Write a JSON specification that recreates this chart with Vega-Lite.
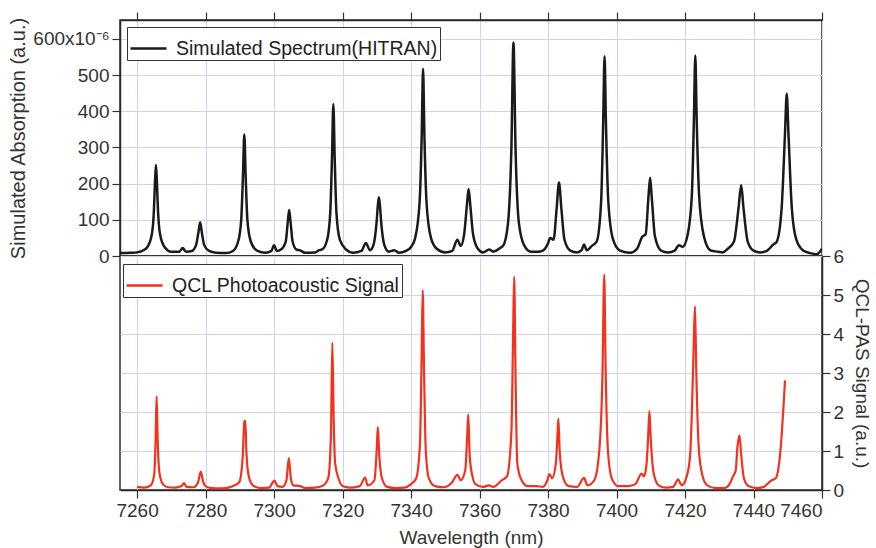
{
  "$schema": "https://vega.github.io/schema/vega-lite/v6.json",
  "padding": {"left": 8, "top": 10, "right": 4, "bottom": 0},
  "background": "white",
  "spacing": 0,
  "bounds": "flush",
  "config": {
    "font": "Liberation Sans",
    "view": {"stroke": "#2a2a2a", "strokeWidth": 1.5},
    "axis": {
      "labelFont": "Liberation Sans",
      "titleFont": "Liberation Sans",
      "labelFontSize": 19,
      "titleFontSize": 20,
      "titleFontWeight": "normal",
      "labelColor": "#333",
      "titleColor": "#333",
      "tickColor": "#333",
      "domainColor": "#2a2a2a",
      "domainWidth": 1.5,
      "tickWidth": 1.2,
      "tickSize": 8,
      "gridColor": "#cdd1f4",
      "gridWidth": 1,
      "labelPadding": 3
    },
    "legend": {
      "labelFont": "Liberation Sans",
      "labelFontSize": 19.5,
      "labelColor": "#222",
      "labelLimit": 500,
      "strokeColor": "#333",
      "fillColor": "white",
      "padding": 2,
      "symbolType": "stroke",
      "symbolSize": 1300,
      "symbolStrokeWidth": 2.5,
      "labelOffset": 8,
      "title": null
    }
  },
  "datasets": {
    "sim": [
      {"x":7255,"y":8},{"x":7258,"y":9},{"x":7260,"y":10},{"x":7261.5,"y":14},{"x":7263,"y":25},{"x":7264.3,"y":60},{"x":7264.9,"y":125},{"x":7265.2,"y":200},{"x":7265.5,"y":252},{"x":7265.8,"y":200},{"x":7266.1,"y":125},{"x":7266.7,"y":60},{"x":7268,"y":25},{"x":7270,"y":12},{"x":7272.3,"y":12},{"x":7273.3,"y":22},{"x":7274.3,"y":12},{"x":7276,"y":14},{"x":7277.2,"y":30},{"x":7277.9,"y":65},{"x":7278.4,"y":93},{"x":7278.9,"y":65},{"x":7279.6,"y":30},{"x":7281,"y":14},{"x":7283,"y":9},{"x":7286,"y":8},{"x":7288,"y":14},{"x":7289.5,"y":40},{"x":7290.4,"y":100},{"x":7290.9,"y":220},{"x":7291.3,"y":336},{"x":7291.7,"y":220},{"x":7292.2,"y":100},{"x":7293.2,"y":40},{"x":7295,"y":15},{"x":7297.5,"y":9},{"x":7299.2,"y":14},{"x":7300,"y":30},{"x":7300.8,"y":14},{"x":7302,"y":18},{"x":7303.4,"y":40},{"x":7304,"y":95},{"x":7304.4,"y":127},{"x":7304.8,"y":95},{"x":7305.4,"y":40},{"x":7306.5,"y":18},{"x":7307.5,"y":16},{"x":7309,"y":9},{"x":7312,"y":10},{"x":7313.1,"y":16},{"x":7314,"y":18},{"x":7315.5,"y":45},{"x":7316.4,"y":120},{"x":7316.9,"y":270},{"x":7317.3,"y":420},{"x":7317.7,"y":270},{"x":7318.2,"y":120},{"x":7319.2,"y":45},{"x":7321,"y":18},{"x":7323,"y":9},{"x":7325.5,"y":14},{"x":7326.8,"y":36},{"x":7328,"y":16},{"x":7329,"y":30},{"x":7329.9,"y":90},{"x":7330.3,"y":140},{"x":7330.6,"y":162},{"x":7330.9,"y":140},{"x":7331.3,"y":90},{"x":7332.2,"y":30},{"x":7333.5,"y":12},{"x":7335.1,"y":16},{"x":7336.5,"y":9},{"x":7338.5,"y":14},{"x":7340,"y":25},{"x":7341.2,"y":50},{"x":7342.5,"y":150},{"x":7343.1,"y":330},{"x":7343.5,"y":517},{"x":7343.9,"y":330},{"x":7344.5,"y":150},{"x":7345.8,"y":50},{"x":7347.5,"y":20},{"x":7350,"y":10},{"x":7352,"y":14},{"x":7353.5,"y":45},{"x":7354.5,"y":28},{"x":7355.5,"y":60},{"x":7356.3,"y":140},{"x":7356.8,"y":185},{"x":7357.3,"y":140},{"x":7358.1,"y":60},{"x":7359.5,"y":20},{"x":7361,"y":10},{"x":7362.8,"y":18},{"x":7364,"y":12},{"x":7366,"y":22},{"x":7367,"y":30},{"x":7368.3,"y":90},{"x":7369.3,"y":300},{"x":7369.9,"y":590},{"x":7370.5,"y":300},{"x":7371.5,"y":90},{"x":7373,"y":30},{"x":7375,"y":12},{"x":7377,"y":12},{"x":7378.5,"y":15},{"x":7380,"y":35},{"x":7380.6,"y":50},{"x":7381.6,"y":45},{"x":7382.5,"y":130},{"x":7383.2,"y":203},{"x":7383.9,"y":130},{"x":7384.8,"y":45},{"x":7386.5,"y":15},{"x":7388.5,"y":10},{"x":7389.8,"y":16},{"x":7390.5,"y":32},{"x":7391.3,"y":16},{"x":7392.8,"y":28},{"x":7394.2,"y":40},{"x":7395.5,"y":150},{"x":7396.1,"y":370},{"x":7396.5,"y":552},{"x":7396.9,"y":370},{"x":7397.6,"y":150},{"x":7399,"y":45},{"x":7401,"y":15},{"x":7404,"y":9},{"x":7406,"y":20},{"x":7407.5,"y":53},{"x":7408.5,"y":60},{"x":7409.3,"y":160},{"x":7409.8,"y":216},{"x":7410.3,"y":160},{"x":7411.2,"y":55},{"x":7413,"y":15},{"x":7415,"y":10},{"x":7417,"y":15},{"x":7418.2,"y":30},{"x":7419.3,"y":25},{"x":7420.8,"y":60},{"x":7422,"y":170},{"x":7422.6,"y":380},{"x":7423,"y":554},{"x":7423.4,"y":380},{"x":7424.1,"y":170},{"x":7425.5,"y":55},{"x":7427.5,"y":15},{"x":7429.6,"y":12},{"x":7431,"y":10},{"x":7432.5,"y":20},{"x":7434.3,"y":40},{"x":7435.6,"y":130},{"x":7436.4,"y":196},{"x":7437.1,"y":130},{"x":7438.3,"y":40},{"x":7440,"y":15},{"x":7442,"y":10},{"x":7444,"y":15},{"x":7445.8,"y":32},{"x":7446.8,"y":40},{"x":7448.2,"y":130},{"x":7449.2,"y":340},{"x":7449.7,"y":448},{"x":7450.2,"y":340},{"x":7451.2,"y":130},{"x":7452.5,"y":45},{"x":7454.5,"y":15},{"x":7456.5,"y":8},{"x":7458.5,"y":5},{"x":7460,"y":20}
    ],
    "pas": [
      {"x":7260,"y":0.08},{"x":7262,"y":0.06},{"x":7264,"y":0.12},{"x":7265,"y":0.4},{"x":7265.4,"y":1.3},{"x":7265.7,"y":2.4},{"x":7266,"y":1.3},{"x":7266.5,"y":0.45},{"x":7267.5,"y":0.15},{"x":7269,"y":0.07},{"x":7271,"y":0.06},{"x":7273,"y":0.1},{"x":7273.7,"y":0.18},{"x":7274.4,"y":0.08},{"x":7276.5,"y":0.07},{"x":7277.8,"y":0.2},{"x":7278.6,"y":0.47},{"x":7279.3,"y":0.2},{"x":7280.5,"y":0.07},{"x":7283,"y":0.04},{"x":7286,"y":0.05},{"x":7288,"y":0.1},{"x":7289.8,"y":0.2},{"x":7290.8,"y":0.8},{"x":7291.3,"y":1.75},{"x":7291.6,"y":1.77},{"x":7291.9,"y":1.0},{"x":7292.6,"y":0.35},{"x":7293.8,"y":0.12},{"x":7296,"y":0.05},{"x":7298.5,"y":0.06},{"x":7300.1,"y":0.24},{"x":7301,"y":0.1},{"x":7302.5,"y":0.08},{"x":7303.6,"y":0.25},{"x":7304.3,"y":0.82},{"x":7304.9,"y":0.3},{"x":7305.6,"y":0.12},{"x":7307.6,"y":0.1},{"x":7309,"y":0.05},{"x":7312,"y":0.06},{"x":7314,"y":0.1},{"x":7315.8,"y":0.3},{"x":7316.6,"y":1.4},{"x":7317,"y":3.78},{"x":7317.4,"y":1.8},{"x":7317.8,"y":0.7},{"x":7318.8,"y":0.3},{"x":7320,"y":0.1},{"x":7322,"y":0.06},{"x":7325,"y":0.1},{"x":7326.6,"y":0.32},{"x":7327.3,"y":0.12},{"x":7329.3,"y":0.25},{"x":7330,"y":1.1},{"x":7330.3,"y":1.61},{"x":7330.7,"y":0.9},{"x":7331.5,"y":0.3},{"x":7333,"y":0.08},{"x":7335.5,"y":0.05},{"x":7338,"y":0.06},{"x":7340,"y":0.15},{"x":7341.5,"y":0.3},{"x":7342.6,"y":1.2},{"x":7343.1,"y":3.5},{"x":7343.4,"y":5.12},{"x":7343.8,"y":3.0},{"x":7344.3,"y":1.0},{"x":7345.2,"y":0.3},{"x":7347,"y":0.1},{"x":7349.5,"y":0.07},{"x":7352,"y":0.2},{"x":7353.5,"y":0.39},{"x":7354.5,"y":0.25},{"x":7355.8,"y":0.5},{"x":7356.4,"y":1.4},{"x":7356.7,"y":1.94},{"x":7357.1,"y":0.9},{"x":7357.8,"y":0.4},{"x":7358.8,"y":0.15},{"x":7361,"y":0.08},{"x":7362.8,"y":0.12},{"x":7364,"y":0.08},{"x":7366.5,"y":0.25},{"x":7368,"y":0.35},{"x":7369.3,"y":1.5},{"x":7369.8,"y":4.0},{"x":7370.1,"y":5.47},{"x":7370.5,"y":3.0},{"x":7371,"y":0.7},{"x":7372,"y":0.3},{"x":7374,"y":0.1},{"x":7376.7,"y":0.1},{"x":7378.5,"y":0.08},{"x":7379.8,"y":0.25},{"x":7380.4,"y":0.41},{"x":7381.2,"y":0.3},{"x":7382.3,"y":0.7},{"x":7382.8,"y":1.5},{"x":7383,"y":1.83},{"x":7383.4,"y":1.0},{"x":7384.3,"y":0.35},{"x":7386,"y":0.1},{"x":7388.5,"y":0.08},{"x":7390.5,"y":0.31},{"x":7391.5,"y":0.12},{"x":7393.5,"y":0.25},{"x":7395,"y":1.05},{"x":7395.9,"y":3.0},{"x":7396.4,"y":5.52},{"x":7396.8,"y":3.2},{"x":7397.5,"y":1.0},{"x":7398.6,"y":0.3},{"x":7400.5,"y":0.1},{"x":7403.5,"y":0.1},{"x":7405.5,"y":0.15},{"x":7407.3,"y":0.42},{"x":7408,"y":0.35},{"x":7408.7,"y":0.62},{"x":7409.2,"y":1.3},{"x":7409.6,"y":2.02},{"x":7410,"y":1.3},{"x":7410.8,"y":0.45},{"x":7412.3,"y":0.12},{"x":7414.5,"y":0.06},{"x":7416.5,"y":0.08},{"x":7418,"y":0.27},{"x":7419,"y":0.12},{"x":7420.5,"y":0.35},{"x":7421.5,"y":0.9},{"x":7422,"y":2.0},{"x":7422.5,"y":3.6},{"x":7422.9,"y":4.71},{"x":7423.3,"y":3.0},{"x":7424,"y":1.1},{"x":7425,"y":0.4},{"x":7426.5,"y":0.12},{"x":7429,"y":0.05},{"x":7431.5,"y":0.05},{"x":7433,"y":0.15},{"x":7434,"y":0.35},{"x":7434.8,"y":0.5},{"x":7435.3,"y":1.1},{"x":7435.9,"y":1.4},{"x":7436.4,"y":0.9},{"x":7437.2,"y":0.3},{"x":7438.5,"y":0.1},{"x":7441,"y":0.05},{"x":7443,"y":0.08},{"x":7445.3,"y":0.25},{"x":7446.5,"y":0.3},{"x":7447.5,"y":0.7},{"x":7448.3,"y":1.5},{"x":7448.8,"y":2.2},{"x":7449.2,"y":2.81}
    ]
  },
  "resolve": {"scale": {"color": "independent", "x": "independent", "y": "independent"}, "legend": {"color": "independent"}},
  "vconcat": [
    {
      "width": 702,
      "height": 236,
      "data": {"name": "sim"},
      "mark": {"type": "line", "strokeWidth": 2.5, "clip": true, "interpolate": "monotone"},
      "encoding": {
        "x": {
          "field": "x", "type": "quantitative",
          "scale": {"domain": [7255, 7460], "nice": false, "zero": false},
          "axis": {"orient": "top", "labels": false, "title": null, "values": [7260,7280,7300,7320,7340,7360,7380,7400,7420,7440,7460], "grid": true}
        },
        "y": {
          "field": "y", "type": "quantitative",
          "scale": {"domain": [0, 652], "nice": false},
          "axis": {"title": "Simulated Absorption (a.u.)", "values": [0,100,200,300,400,500,600], "grid": true, "labelExpr": "datum.value == 600 ? '600x10⁻⁶' : datum.label", "titlePadding": 4}
        },
        "color": {
          "datum": "Simulated Spectrum(HITRAN)",
          "type": "nominal",
          "scale": {"range": ["#1a1a1a"]},
          "legend": {"orient": "none", "legendX": 7, "legendY": 7}
        }
      }
    },
    {
      "width": 702,
      "height": 234,
      "data": {"name": "pas"},
      "mark": {"type": "line", "strokeWidth": 2.2, "clip": true, "interpolate": "monotone"},
      "encoding": {
        "x": {
          "field": "x", "type": "quantitative",
          "scale": {"domain": [7255, 7460], "nice": false, "zero": false},
          "axis": {"orient": "bottom", "title": "Wavelength (nm)", "titleFontSize": 19, "titlePadding": 8, "values": [7260,7280,7300,7320,7340,7360,7380,7400,7420,7440,7460], "grid": true, "format": "d"}
        },
        "y": {
          "field": "y", "type": "quantitative",
          "scale": {"domain": [0, 6], "nice": false},
          "axis": {"orient": "right", "title": "QCL-PAS Signal (a.u.)", "values": [0,1,2,3,4,5,6], "grid": true, "titlePadding": 8, "titleFontSize": 19}
        },
        "color": {
          "datum": "QCL Photoacoustic Signal",
          "type": "nominal",
          "scale": {"range": ["#f2321f"]},
          "legend": {"orient": "none", "legendX": 3, "legendY": 8}
        }
      }
    }
  ]
}
